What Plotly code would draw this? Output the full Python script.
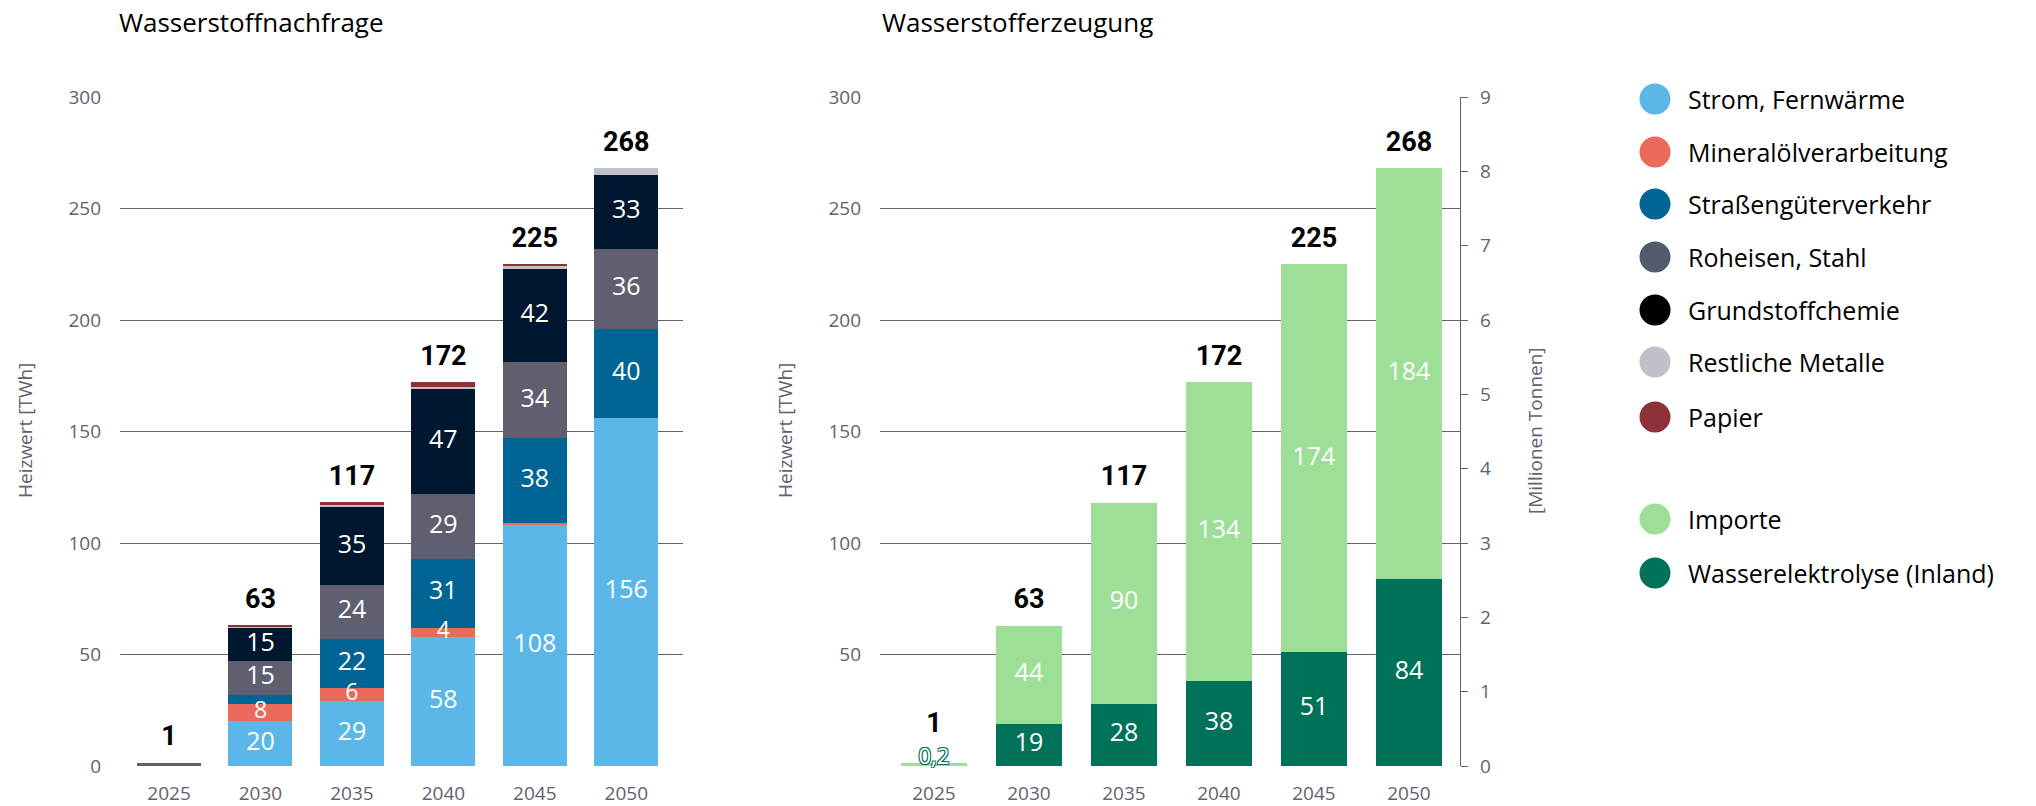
import plotly.graph_objects as go

# ---------------- data ----------------
years = ["2025", "2030", "2035", "2040", "2045", "2050"]

# Wasserstoffnachfrage (TWh)
strom = [0, 20, 29, 58, 108, 156]
mineraloel = [0, 8, 6, 4, 1, 0]
strasse = [0, 4, 22, 31, 38, 40]
roheisen = [1.4, 15, 24, 29, 34, 36]
grundstoff = [0, 15, 35, 47, 42, 33]
restliche = [0, 0.5, 1, 1, 1, 3]
papier = [0, 0.5, 1.2, 2, 1, 0]

strom_lbl = ["", "20", "29", "58", "108", "156"]
mineraloel_lbl = ["", "8", "6", "4", "", ""]
strasse_lbl = ["", "", "22", "31", "38", "40"]
roheisen_lbl = ["", "15", "24", "29", "34", "36"]
grundstoff_lbl = ["", "15", "35", "47", "42", "33"]
restliche_lbl = ["", "", "", "", "", ""]
papier_lbl = ["", "", "", "", "", ""]
nachfrage_total = ["1", "63", "117", "172", "225", "268"]

# Wasserstofferzeugung (TWh)
elektrolyse = [0.2, 19, 28, 38, 51, 84]
importe = [1.0, 44, 90, 134, 174, 184]
elektrolyse_lbl = ["", "19", "28", "38", "51", "84"]
importe_lbl = ["", "44", "90", "134", "174", "184"]
erzeugung_total = ["1", "63", "117", "172", "225", "268"]
small_lbl_2025 = "0,2"

y_ticks = [0, 50, 100, 150, 200, 250, 300]
y2_ticktext = ["", "50", "100", "150", "200", "250", "300"]
mt_ticks = [0, 1, 2, 3, 4, 5, 6, 7, 8, 9]

# ---------------- style ----------------
W, H = 2036, 806
C_STROM = "#5bb7e8"
C_MIN = "#ec6a5c"
C_STR = "#006595"
C_ROH = "#5f5f70"
C_GRU = "#00182f"
C_RES = "#c0c0c8"
C_PAP = "#8e3138"
C_IMP = "#9ddf97"
C_ELE = "#00725a"
AX = "#62626f"
FONT = "Open Sans"


def px(x):
    return x / W


def py(y):
    return 1 - y / H


fig = go.Figure()

left_series = [
    (strom, strom_lbl, C_STROM, 25),
    (mineraloel, mineraloel_lbl, C_MIN, 23),
    (strasse, strasse_lbl, C_STR, 25),
    (roheisen, roheisen_lbl, C_ROH, 25),
    (grundstoff, grundstoff_lbl, C_GRU, 25),
    (restliche, restliche_lbl, C_RES, 25),
    (papier, papier_lbl, C_PAP, 25),
]
right_series = [
    (elektrolyse, elektrolyse_lbl, C_ELE, 25),
    (importe, importe_lbl, C_IMP, 25),
]


def add_stack(series, xa, ya):
    base = [0.0] * len(years)
    label_traces = []
    for vals, lbls, col, fs in series:
        fig.add_trace(go.Bar(
            x=years, y=vals, marker=dict(color=col, line=dict(width=0)),
            xaxis=xa, yaxis=ya, showlegend=False, hoverinfo="skip",
        ))
        mids = [b + v / 2 for b, v in zip(base, vals)]
        label_traces.append(go.Scatter(
            x=years, y=mids, text=lbls, mode="text", textposition="middle center",
            textfont=dict(family=FONT, size=fs, color="white"),
            xaxis=xa, yaxis=ya, showlegend=False, hoverinfo="skip", cliponaxis=False,
        ))
        base = [b + v for b, v in zip(base, vals)]
    for t in label_traces:
        fig.add_trace(t)
    return base


tot_l = add_stack(left_series, "x", "y")
tot_r = add_stack(right_series, "x2", "y2")

# total labels (right 2025 label lifted above the small "0,2" label)
tot_r_pos = list(tot_r)
tot_r_pos[0] += 6

total_font = dict(family="Roboto", size=27, color="black", weight="bold")
fig.add_trace(go.Scatter(
    x=years, y=tot_l, text=nachfrage_total, mode="markers+text", textposition="top center",
    marker=dict(size=16, opacity=0), textfont=total_font,
    xaxis="x", yaxis="y", showlegend=False, hoverinfo="skip", cliponaxis=False))
fig.add_trace(go.Scatter(
    x=years, y=tot_r_pos, text=erzeugung_total, mode="markers+text", textposition="top center",
    marker=dict(size=16, opacity=0), textfont=total_font,
    xaxis="x2", yaxis="y2", showlegend=False, hoverinfo="skip", cliponaxis=False))

# outlined small label for 2025 (Wasserelektrolyse)
fig.add_trace(go.Scatter(
    x=[years[0]], y=[elektrolyse[0] + 3.2], text=[small_lbl_2025], mode="text",
    textposition="middle center",
    textfont=dict(family=FONT, size=22, color="white",
                  shadow="-1px -1px 0 #00725a, 1px -1px 0 #00725a, -1px 1px 0 #00725a, 1px 1px 0 #00725a"),
    xaxis="x2", yaxis="y2", showlegend=False, hoverinfo="skip", cliponaxis=False))

# empty trace so the secondary axis is drawn
fig.add_trace(go.Scatter(x=[], y=[], xaxis="x2", yaxis="y3", showlegend=False))

annotations = []
# titles
annotations.append(dict(x=px(117), y=py(22), xref="paper", yref="paper", xanchor="left",
                        yanchor="middle", text="Wasserstoffnachfrage", showarrow=False,
                        font=dict(family=FONT, size=26, color="black")))
annotations.append(dict(x=px(880), y=py(22), xref="paper", yref="paper", xanchor="left",
                        yanchor="middle", text="Wasserstofferzeugung", showarrow=False,
                        font=dict(family=FONT, size=26, color="black")))

# axis titles
for xx, txt in [(25, "Heizwert [TWh]"), (785, "Heizwert [TWh]"), (1535, "[Millionen Tonnen]")]:
    annotations.append(dict(x=px(xx), y=py(431), xref="paper", yref="paper",
                            xanchor="center", yanchor="middle", textangle=-90,
                            text=txt, showarrow=False,
                            font=dict(family=FONT, size=19, color=AX)))

# legend
legend_items = [
    ("Strom, Fernwärme", "#5bb7e8", 99),
    ("Mineralölverarbeitung", "#ec6a5c", 152),
    ("Straßengüterverkehr", "#006595", 204),
    ("Roheisen, Stahl", "#525c6c", 257),
    ("Grundstoffchemie", "#000000", 310),
    ("Restliche Metalle", "#c0c0c8", 362),
    ("Papier", "#8e3138", 417),
    ("Importe", "#9ddf97", 519),
    ("Wasserelektrolyse (Inland)", "#00725a", 573),
]
shapes = []
for name, col, yy in legend_items:
    r = 15.5
    shapes.append(dict(type="circle", xref="paper", yref="paper",
                       x0=px(1655 - r), x1=px(1655 + r), y0=py(yy + r), y1=py(yy - r),
                       fillcolor=col, line=dict(width=0)))
    annotations.append(dict(x=px(1686), y=py(yy), xref="paper", yref="paper",
                            xanchor="left", yanchor="middle", text=name, showarrow=False,
                            font=dict(family=FONT, size=25, color="black")))

ydom = [py(766), py(97)]
tickfont = dict(family=FONT, size=19, color=AX)

fig.update_layout(
    width=W, height=H,
    margin=dict(l=0, r=0, t=0, b=0, autoexpand=False),
    paper_bgcolor="white", plot_bgcolor="white",
    barmode="stack", bargap=0.3,
    showlegend=False,
    annotations=annotations, shapes=shapes,
    xaxis=dict(domain=[px(120), px(683)], type="category", range=[-0.536, 5.62],
               anchor="y", showgrid=False, zeroline=False, showline=False, ticks="",
               tickfont=tickfont, ticklabelstandoff=14, automargin=False),
    yaxis=dict(domain=ydom, range=[0, 300], tickvals=y_ticks, anchor="x",
               showgrid=True, gridcolor=AX, gridwidth=1.3, zeroline=False,
               showline=False, ticks="", tickfont=tickfont, ticklabelstandoff=18,
               automargin=False),
    xaxis2=dict(domain=[px(880), px(1460)], type="category", range=[-0.568, 5.537],
                anchor="y2", showgrid=False, zeroline=False, showline=False, ticks="",
                tickfont=tickfont, ticklabelstandoff=14, automargin=False),
    yaxis2=dict(domain=ydom, range=[0, 300], tickvals=y_ticks, ticktext=y2_ticktext,
                anchor="x2", showgrid=True, gridcolor=AX, gridwidth=1.3, zeroline=False,
                showline=False, ticks="", tickfont=tickfont, ticklabelstandoff=18,
                automargin=False),
    yaxis3=dict(overlaying="y2", side="right", anchor="x2", range=[0, 9],
                tickvals=mt_ticks, showgrid=False, zeroline=False, showline=True,
                linecolor=AX, linewidth=1.3, ticks="outside", ticklen=7,
                tickcolor=AX, tickwidth=1.3, tickfont=tickfont, ticklabelstandoff=8,
                automargin=False),
)

fig.write_html("out.html", config={"displayModeBar": False},
               post_script="document.body.style.margin='0px';")
